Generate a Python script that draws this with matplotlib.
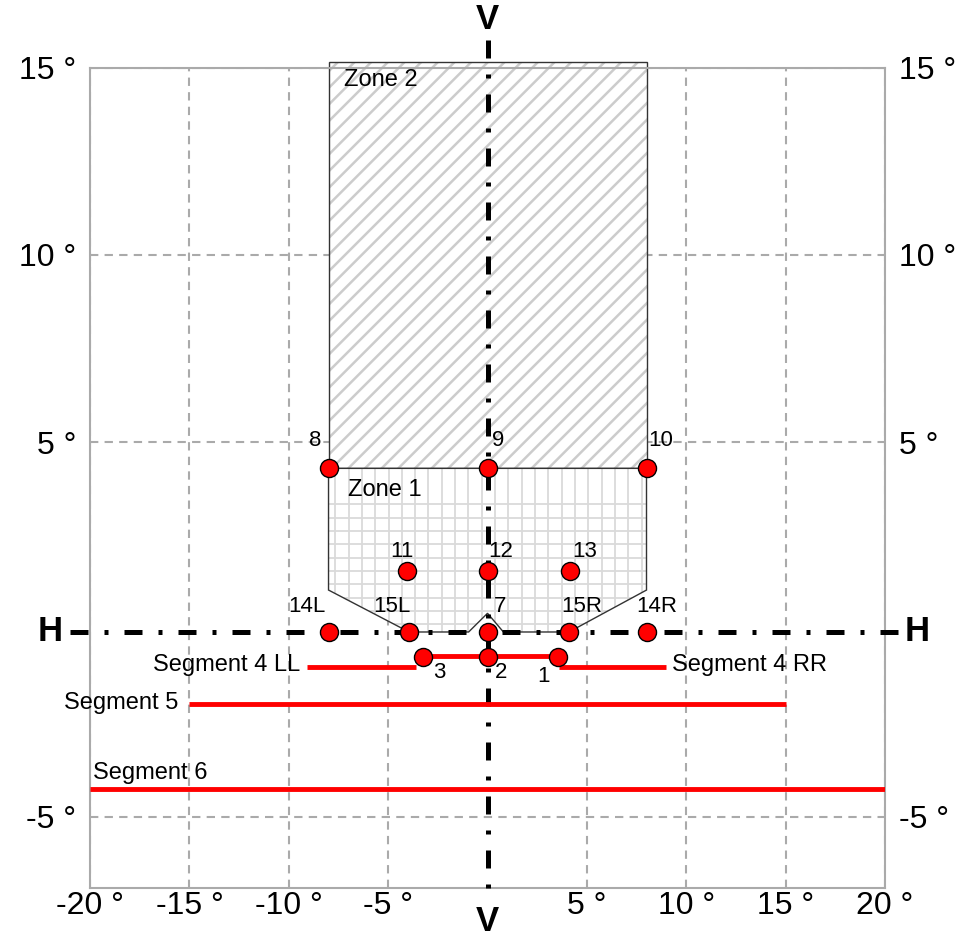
import matplotlib
matplotlib.use('Agg')
import matplotlib.pyplot as plt
import numpy as np
from matplotlib.patches import Polygon

plt.rcParams['font.family'] = ['Liberation Sans', 'DejaVu Sans']

# measuring points (degrees)
pt_names = ['8', '9', '10', '11', '12', '13', '14L', '15L', '7', '15R', '14R', '3', '2', '1']
pt_x = [-8, 0, 8, -4.05, 0, 4.15, -8, -3.95, 0, 4.1, 8, -3.25, 0, 3.55]
pt_y = [4.3, 4.3, 4.3, 1.55, 1.55, 1.55, -0.07, -0.07, -0.07, -0.07, -0.07, -0.74, -0.74, -0.74]

# red segments
seg_names = ['', 'Segment 4 LL', 'Segment 4 RR', 'Segment 5', 'Segment 6']
seg_x0 = [-3.25, -9.1, 3.6, -15, -20]
seg_x1 = [3.55, -3.6, 9.0, 15, 20]
seg_y = [-0.72, -1.0, -1.0, -1.98, -4.27]

# zones
zone2_x = [-8, 8, 8, -8]
zone2_y = [4.3, 4.3, 15.15, 15.15]
zone1_x = [-8, 8, 8, 4.1, 0.8, 0, -0.95, -3.95, -8]
zone1_y = [4.3, 4.3, 1.05, -0.07, -0.07, 0.43, -0.07, -0.07, 1.05]

xticks = [-20, -15, -10, -5, 5, 10, 15, 20]
yticks = [-5, 5, 10, 15]

fig = plt.figure(figsize=(9.61, 9.38), dpi=100)
ax = fig.add_axes([0.0937, 0.0536, 0.8272, 0.8742])
ax.set_xlim(-20, 20)
ax.set_ylim(-6.9, 15)

ax.set_xticks(xticks, ['%d °' % t for t in xticks])
ax.set_yticks(yticks, ['%d °' % t for t in yticks])
ax.tick_params(length=0, labelsize=23, labelright=True, pad=10)
ax.tick_params(axis='x', pad=2)
ax.grid(True, color='#aaaaaa', linestyle=(0, (4, 3)), linewidth=1.5)
for s in ax.spines.values():
    s.set_color('#aaaaaa')
    s.set_linewidth(1.5)

# zone 2 (hatched)
z2 = list(zip(zone2_x, zone2_y))
z1 = list(zip(zone1_x, zone1_y))
plt.rcParams['hatch.linewidth'] = 1.8
ax.add_patch(Polygon(z2, closed=True, facecolor='white', edgecolor='#cccccc',
                     hatch='//', linewidth=0, clip_on=False, zorder=2))
ax.add_patch(Polygon(z2, closed=True, fill=False, edgecolor='#333333',
                     linewidth=1, clip_on=False, zorder=2))

# zone 1 (fine grid, clipped to the zone outline)
z1_fill = Polygon(z1, closed=True, facecolor='white', edgecolor='none', zorder=2)
ax.add_patch(z1_fill)
for gx in np.arange(-7.66, 8, 0.67):
    ln, = ax.plot([gx, gx], [-0.2, 4.4], color='#dadada', linewidth=1.3, zorder=2.1)
    ln.set_clip_path(z1_fill)
for gy in np.arange(3.34, -0.2, -0.356):
    ln, = ax.plot([-8.1, 8.1], [gy, gy], color='#dadada', linewidth=1.3, zorder=2.1)
    ln.set_clip_path(z1_fill)
ax.add_patch(Polygon(z1, closed=True, fill=False, edgecolor='#333333',
                     linewidth=1, zorder=2.2))
ax.text(-7.2, 14.67, 'Zone 2', fontsize=17, va='center', ha='left', zorder=5)
ax.text(-7.0, 3.72, 'Zone 1', fontsize=17, va='center', ha='left', zorder=5)

# H-H and V-V axes
dash = (0, (3.6, 3.2, 0.8, 3.2))
ax.plot([-21.0, 20.75], [-0.07, -0.07], color='black', linewidth=3.6, linestyle=dash,
        clip_on=False, zorder=3)
ax.plot([0, 0], [15.75, -7.25], color='black', linewidth=3.6, linestyle=dash,
        clip_on=False, zorder=3)
ax.text(-22.0, -0.07, 'H', fontsize=25, fontweight='bold', ha='center', va='center')
ax.text(21.6, -0.07, 'H', fontsize=25, fontweight='bold', ha='center', va='center')
ax.text(0, 16.3, 'V', fontsize=25, fontweight='bold', ha='center', va='center')
ax.text(0, -7.8, 'V', fontsize=25, fontweight='bold', ha='center', va='center')

# segments
for name, x0, x1, y in zip(seg_names, seg_x0, seg_x1, seg_y):
    ax.plot([x0, x1], [y, y], color='red', linewidth=3.5, solid_capstyle='butt', zorder=4)
ax.text(-9.43, -0.95, seg_names[1], fontsize=17, ha='right', va='center')
ax.text(9.28, -0.95, seg_names[2], fontsize=17, ha='left', va='center')
ax.text(-15.57, -1.96, seg_names[3], fontsize=17, ha='right', va='center')
ax.text(-19.85, -3.83, seg_names[4], fontsize=17, ha='left', va='center')

# points
ax.plot(pt_x, pt_y, 'o', color='red', markeredgecolor='black', markeredgewidth=1,
        markersize=13, linestyle='None', zorder=6)
offs = [(-13, 28), (11, 28), (14, 28), (-5, 20), (13, 20), (15, 20), (-22, 25),
        (-17, 25), (13, 25), (13, 25), (10, 25), (16, -15), (14, -15), (-15, -19)]
for name, x, y, o in zip(pt_names, pt_x, pt_y, offs):
    ax.annotate(name, (x, y), xytext=o, textcoords='offset pixels', fontsize=16,
                ha='center', va='center', zorder=7)

fig.savefig('out.png', dpi=100)
